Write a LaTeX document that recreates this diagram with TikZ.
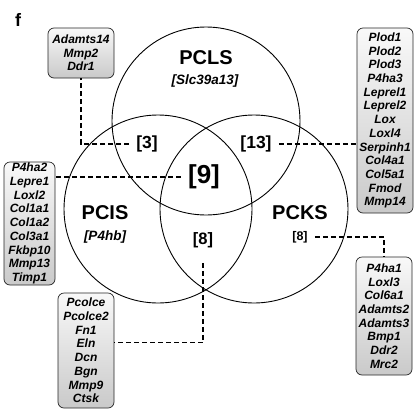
\documentclass[tikz,border=0pt]{standalone}
\usepackage{fontspec}
\setmainfont{Liberation Sans}
\usetikzlibrary{positioning}

\tikzset{
  genebox/.style={draw=black!85, line width=0.7pt, rounded corners=6pt,
    top color=gray!5, bottom color=gray!42, align=center, inner sep=1pt,
    font=\fontsize{12}{13.7}\selectfont\bfseries\itshape},
  link/.style={line width=1.8pt, dash pattern=on 5pt off 3pt, shorten <=3pt},
  venn/.style={line width=0.9pt},
  count/.style={inner sep=4pt, font=\fontsize{17.5}{20}\selectfont\bfseries},
  setname/.style={inner sep=0pt, font=\fontsize{20}{22}\selectfont\bfseries},
  setgene/.style={inner sep=0pt, font=\fontsize{13.5}{15}\selectfont\bfseries\itshape}
}

\begin{document}
\begin{tikzpicture}[x=1pt, y=-1pt]
      % Every aspect of the figure can be altered through these definitions
      \def\radius{94pt}
      \useasboundingbox (0,0) rectangle (417,410);

      % The three sets
      \coordinate (L) at (206,121);
      \coordinate (I) at (158,209);
      \coordinate (K) at (254,209);
      \draw[venn] (L) circle[radius=\radius];
      \draw[venn] (I) circle[radius=\radius];
      \draw[venn] (K) circle[radius=\radius];

      \node[inner sep=0pt, font=\fontsize{18}{20}\selectfont\bfseries] (f) at (18,20) {f};

      % set names
      \node[setname] (PCLS) at (206,58) {PCLS};
      \node[setgene] (Slc) at (205,81) {[Slc39a13]};
      \node[setname] (PCIS) at (105,213) {PCIS};
      \node[setgene] (Pfourhb) at (105,237) {[P4hb]};
      \node[setname] (PCKS) at (300,213) {PCKS};

      % counts
      \node[count] (nThree) at (147,144) {[3]};
      \node[count] (nThirteen) at (256,144) {[13]};
      \node[count, font=\fontsize{26}{28}\selectfont\bfseries] (nNine) at (204,177) {[9]};
      \node[count, font=\fontsize{16.5}{18}\selectfont\bfseries] (nEightC) at (203,240) {[8]};
      \node[count, font=\fontsize{12.5}{14}\selectfont\bfseries] (nEightR) at (300,237) {[8]};

      % gene boxes
      \node[genebox, minimum width=66pt, minimum height=50pt] (bAdamts) at (81,53)
        {Adamts14\\Mmp2\\Ddr1};
      \node[genebox, minimum width=56pt, minimum height=185pt] (bPlod) at (385,120.5)
        {Plod1\\Plod2\\Plod3\\P4ha3\\Leprel1\\Leprel2\\Lox\\Loxl4\\Serpinh1\\Col4a1\\Col5a1\\Fmod\\Mmp14};
      \node[genebox, minimum width=51pt, minimum height=123pt] (bPfourhatwo) at (29.5,223.5)
        {P4ha2\\Lepre1\\Loxl2\\Col1a1\\Col1a2\\Col3a1\\Fkbp10\\Mmp13\\Timp1};
      \node[genebox, minimum width=56pt, minimum height=115pt] (bPcolce) at (86,350.5)
        {Pcolce\\Pcolce2\\Fn1\\Eln\\Dcn\\Bgn\\Mmp9\\Ctsk};
      \node[genebox, minimum width=56pt, minimum height=118pt] (bPfourhaone) at (384,316)
        {P4ha1\\Loxl3\\Col6a1\\Adamts2\\Adamts3\\Bmp1\\Ddr2\\Mrc2};

      % dashed connectors
      \draw[link] (nThree.west) -| (bAdamts.south);
      \draw[link] (nThirteen.east) -- (nThirteen.east -| bPlod.west);
      \draw[link] (nNine.west) -- (nNine.west -| bPfourhatwo.east);
      \draw[link, shorten <=11pt] (nEightC.south) |- ([yshift=8pt]bPcolce.east);
      \draw[link] (nEightR.east) -| (bPfourhaone.north);
\end{tikzpicture}
\end{document}
